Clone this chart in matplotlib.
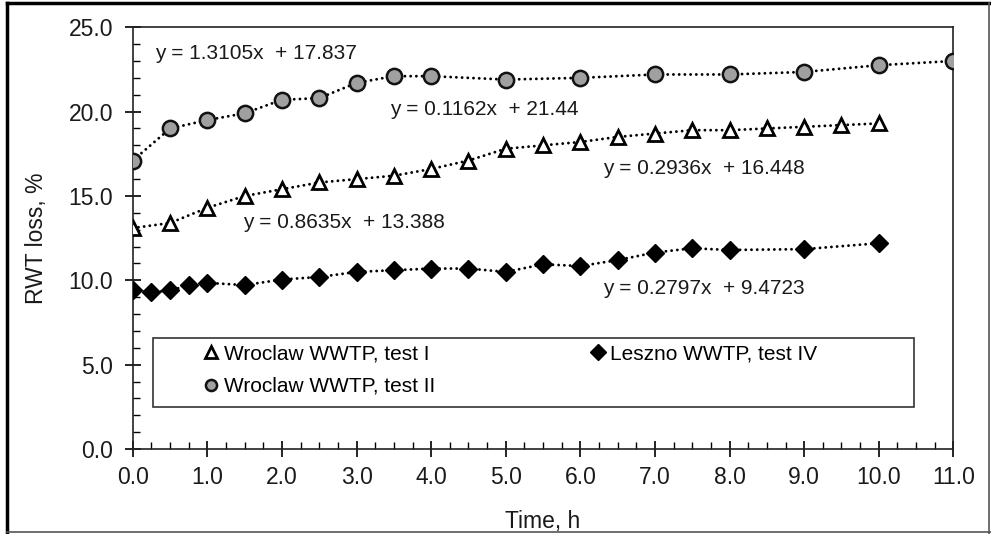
import matplotlib.pyplot as plt
from matplotlib.lines import Line2D
from matplotlib.patches import Rectangle
from matplotlib.ticker import MultipleLocator, FormatStrFormatter

plt.rcParams['font.family'] = ['Liberation Sans', 'DejaVu Sans']

# Wroclaw WWTP, test I
t1 = [0.0, 0.5, 1.0, 1.5, 2.0, 2.5, 3.0, 3.5, 4.0, 4.5, 5.0,
      5.5, 6.0, 6.5, 7.0, 7.5, 8.0, 8.5, 9.0, 9.5, 10.0]
loss1 = [13.1, 13.4, 14.3, 15.0, 15.4, 15.8, 16.0, 16.2, 16.6, 17.1, 17.8,
         18.0, 18.2, 18.5, 18.7, 18.9, 18.9, 19.0, 19.1, 19.2, 19.3]

# Wroclaw WWTP, test II
t2 = [0.0, 0.5, 1.0, 1.5, 2.0, 2.5, 3.0, 3.5, 4.0, 5.0, 6.0, 7.0, 8.0, 9.0, 10.0, 11.0]
loss2 = [17.1, 19.0, 19.5, 19.9, 20.7, 20.8, 21.7, 22.1, 22.1, 21.9, 22.0,
         22.2, 22.2, 22.35, 22.75, 23.0]

# Leszno WWTP, test IV
t4 = [0.0, 0.25, 0.5, 0.75, 1.0, 1.5, 2.0, 2.5, 3.0, 3.5, 4.0, 4.5, 5.0,
      5.5, 6.0, 6.5, 7.0, 7.5, 8.0, 9.0, 10.0]
loss4 = [9.4, 9.3, 9.4, 9.7, 9.85, 9.72, 10.05, 10.2, 10.5, 10.6, 10.7, 10.7, 10.5,
         10.95, 10.85, 11.2, 11.65, 11.9, 11.8, 11.85, 12.2]

labels = ['Wroclaw WWTP, test I', 'Wroclaw WWTP, test II', 'Leszno WWTP, test IV']

equations = ['y = 1.3105x  + 17.837', 'y = 0.1162x  + 21.44', 'y = 0.8635x  + 13.388',
             'y = 0.2936x  + 16.448', 'y = 0.2797x  + 9.4723']
eq_pos = [(0.3, 23.45), (3.45, 20.1), (1.48, 13.45), (6.31, 16.65), (6.31, 9.5)]

fig = plt.figure(figsize=(9.91, 5.34), dpi=100)
ax = fig.add_axes([0.134, 0.159, 0.828, 0.790])

dots = (0, (0.01, 1.95))
line_kw = dict(color='black', linestyle=dots, lw=2.1, dash_capstyle='round', zorder=3)
ax.plot(t1, loss1, marker='^', markersize=10, markerfacecolor='white',
        markeredgecolor='black', markeredgewidth=2, label=labels[0], **line_kw)
ax.plot(t2, loss2, marker='o', markersize=11, markerfacecolor='#a0a0a0',
        markeredgecolor='#111111', markeredgewidth=1.8, label=labels[1], **line_kw)
ax.plot(t4, loss4, marker='D', markersize=9.5, markerfacecolor='black',
        markeredgecolor='black', label=labels[2], **line_kw)

for txt, (x, y) in zip(equations, eq_pos):
    ax.text(x, y, txt, fontsize=15, va='center', ha='left', color='#1a1a1a')

ax.set_xlim(0, 11)
ax.set_ylim(0, 25)
ax.xaxis.set_major_locator(MultipleLocator(1))
ax.xaxis.set_minor_locator(MultipleLocator(0.25))
ax.yaxis.set_major_locator(MultipleLocator(5))
ax.yaxis.set_minor_locator(MultipleLocator(1))
ax.xaxis.set_major_formatter(FormatStrFormatter('%.1f'))
ax.yaxis.set_major_formatter(FormatStrFormatter('%.1f'))
ax.tick_params(which='major', direction='inout', length=12, width=1.2,
               labelsize=16.5, pad=6, color='black', labelcolor='#1a1a1a')
ax.tick_params(which='minor', direction='in', length=5, width=1, color='black')
ax.tick_params(axis='y', which='major', pad=8)
ax.tick_params(top=False, right=False, which='both')
for s in ax.spines.values():
    s.set_linewidth(1.2)
    s.set_color('#222222')

ax.set_xlabel('Time, h', fontsize=16.5, labelpad=15, color='#1a1a1a')
ax.set_ylabel('RWT loss, %', fontsize=16.5, labelpad=15, color='#1a1a1a')

# legend box drawn separately, entries placed inside it
ax.add_patch(Rectangle((0.0244, 0.0995), 0.928, 0.1635, transform=ax.transAxes,
                       facecolor='white', edgecolor='#333333', lw=1.2, zorder=4))
leg = ax.legend(ncol=2, loc='upper left', bbox_to_anchor=(0.088, 0.248),
                fontsize=15, frameon=False, handlelength=0.6, handletextpad=0.3,
                borderpad=0, labelspacing=0.64, borderaxespad=0, columnspacing=7.5)
leg.set_zorder(5)
for h in leg.legend_handles:
    h.set_linestyle('None')
    h.set_markersize(8)

# outer border around the whole picture
fig.add_artist(Line2D([0.0075, 0.0075], [0.0, 0.994], transform=fig.transFigure,
                      color='black', lw=2.5))
fig.add_artist(Line2D([0.0075, 1.0], [0.994, 0.994], transform=fig.transFigure,
                      color='black', lw=2.5))
fig.add_artist(Line2D([0.998, 0.998], [0.0, 0.994], transform=fig.transFigure,
                      color='#555555', lw=1.2))
fig.add_artist(Line2D([0.0075, 1.0], [0.003, 0.003], transform=fig.transFigure,
                      color='#555555', lw=1.2))

fig.savefig('out.png', dpi=100)
